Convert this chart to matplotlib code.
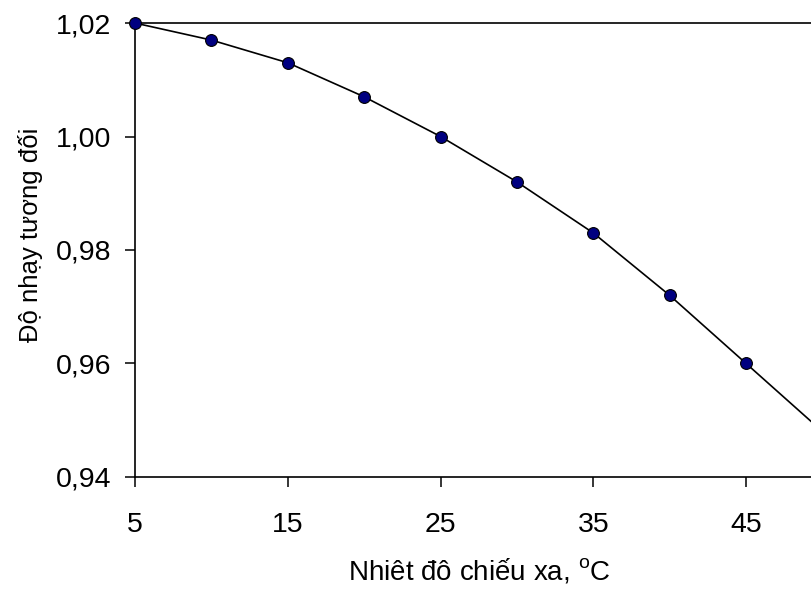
import matplotlib
matplotlib.use('Agg')
import matplotlib.pyplot as plt
from matplotlib.ticker import FuncFormatter

plt.rcParams['font.family'] = ['Liberation Sans', 'DejaVu Sans']
plt.rcParams['mathtext.fontset'] = 'custom'
plt.rcParams['mathtext.rm'] = 'Liberation Sans'

# Measured points
temp = [5, 10, 15, 20, 25, 30, 35, 40, 45]
sens = [1.020, 1.017, 1.013, 1.007, 1.000, 0.992, 0.983, 0.972, 0.960]

# Trend line (continues past the last point)
line_temp = [5, 10, 15, 20, 25, 30, 35, 40, 45, 50]
line_sens = [1.020, 1.017, 1.013, 1.007, 1.000, 0.992, 0.983, 0.972, 0.960, 0.948]

xticks = [5, 15, 25, 35, 45]
yticks = [0.94, 0.96, 0.98, 1.00, 1.02]

fig = plt.figure(figsize=(8.11, 5.91), dpi=100)
ax = fig.add_axes([0.1665, 0.193, 0.8335, 0.768])

ax.plot(line_temp, line_sens, color='black', lw=1.2, zorder=2)
ax.plot(temp, sens, ls='none', marker='o', ms=8.5, mfc='#000080', mec='black',
        mew=0.8, zorder=3, clip_on=False)

ax.set_xlim(5, 49.25)
ax.set_ylim(0.94, 1.02)
ax.set_xticks(xticks)
ax.set_yticks(yticks)
ax.yaxis.set_major_formatter(FuncFormatter(lambda v, p: f'{v:.2f}'.replace('.', ',')))

ax.spines['right'].set_visible(False)
for s in ['left', 'bottom', 'top']:
    ax.spines[s].set_linewidth(1.2)

ax.tick_params(axis='both', direction='out', length=7, width=1.1, labelsize=20.5)
ax.tick_params(axis='y', pad=10)
ax.tick_params(axis='x', pad=18.5)

ax.set_xlabel('Nhiêt đô chiếu xa, $^{\\mathrm{o}}$C', fontsize=20)
ax.xaxis.set_label_coords(0.509, -0.176)
ax.set_ylabel('Độ nhạy tương đối', fontsize=18.5)
ax.yaxis.set_label_coords(-0.136, 0.533)

fig.savefig('out.png', dpi=100)
